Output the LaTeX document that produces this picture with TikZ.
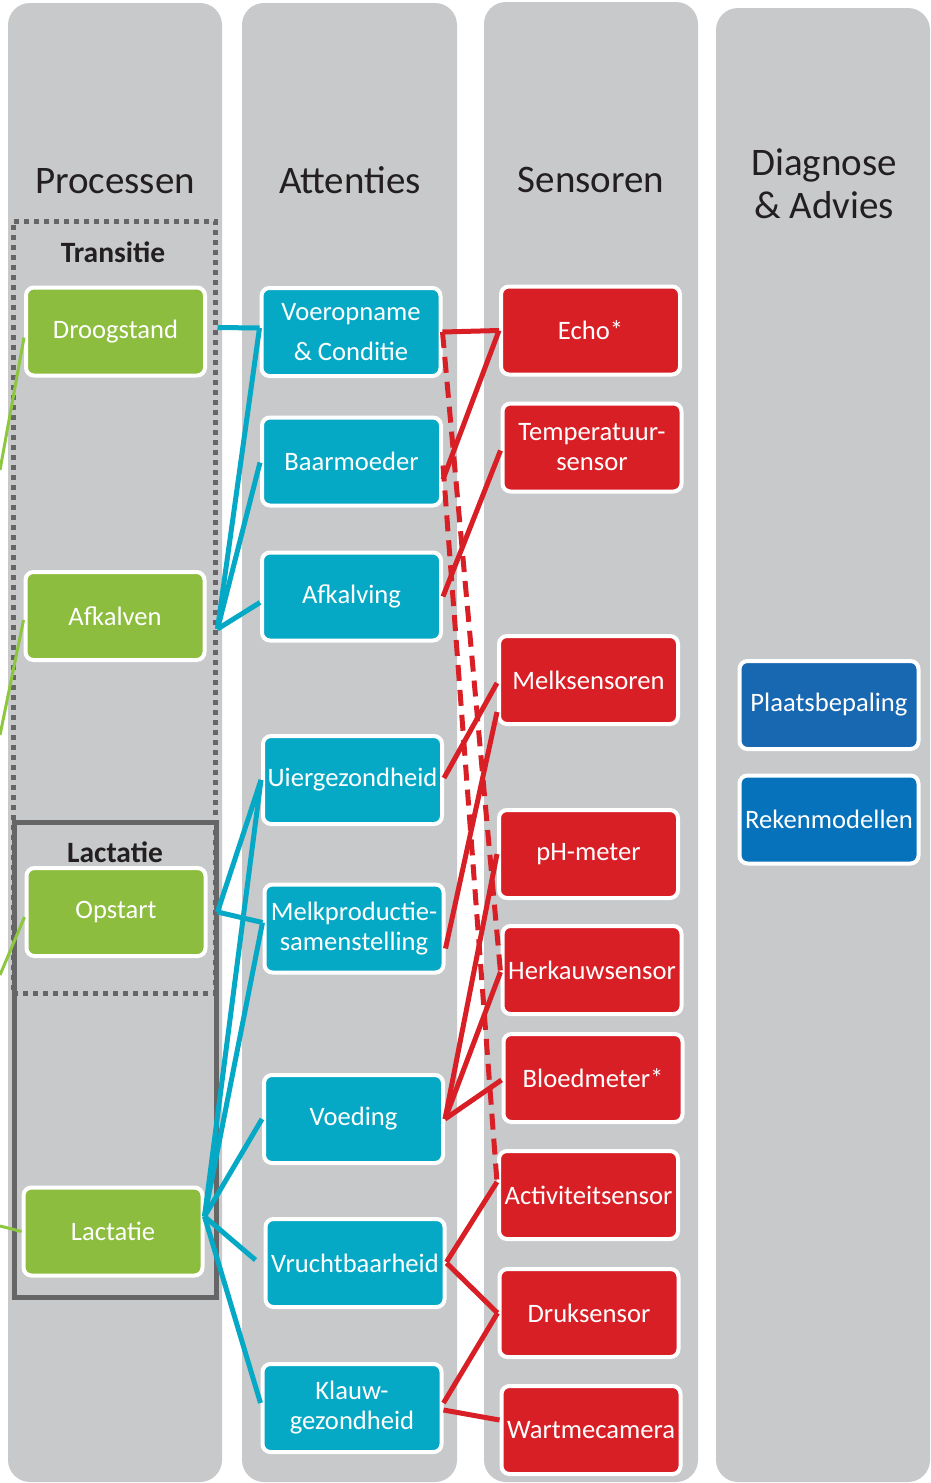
\documentclass[tikz,border=0pt]{standalone}
\usepackage{fontspec}
\setmainfont{Carlito}
\usetikzlibrary{calc}
\definecolor{colgray}{HTML}{C8C9CB}
\definecolor{procgreen}{HTML}{8CBD3E}
\definecolor{attteal}{HTML}{06A9C5}
\definecolor{sensred}{HTML}{D91F26}
\definecolor{diagblue}{HTML}{1767B1}
\definecolor{diagbluetwo}{HTML}{0672BB}
\definecolor{framegray}{HTML}{666666}
\definecolor{headtext}{HTML}{231F20}
\definecolor{feedgreen}{HTML}{8DC63F}

\begin{document}
\begin{tikzpicture}[x=1pt,y=-1pt,
  column/.style={fill=colgray, rounded corners=22pt},
  card/.style={draw=white, line width=4pt, rounded corners=8pt,
    minimum width=179pt, minimum height=88pt, inner sep=0pt,
    text=white, align=center, font=\fontsize{26.6}{30}\selectfont},
  proc/.style={card, fill=procgreen},
  att/.style={card, fill=attteal},
  sens/.style={card, fill=sensred},
  diag/.style={card, fill=diagblue},
  header/.style={font=\fontsize{39}{46}\selectfont, text=headtext, anchor=base},
  grouptitle/.style={font=\bfseries\fontsize{29.5}{34}\selectfont, text=headtext, anchor=base},
  dottedframe/.style={draw=framegray, line width=5pt, dash pattern=on 5pt off 5pt,
    inner sep=0pt},
  solidframe/.style={draw=framegray, line width=5pt, inner sep=0pt},
  tlink/.style={draw=attteal, line width=5pt},
  rlink/.style={draw=sensred, line width=5pt},
  rdash/.style={rlink, dash pattern=on 16pt off 9pt},
  feed/.style={draw=feedgreen, line width=3pt},
]
\useasboundingbox (0,0) rectangle (930,1483);

% the four columns
\fill[column] (8,3) rectangle (222,1482);
\fill[column] (242,3) rectangle (457,1482);
\fill[column] (484,2) rectangle (698,1482);
\fill[column] (716,8) rectangle (930,1482);

% column headings
\node[header] (hproc) at (115,193) {Processen};
\node[header] (hatt) at (350,193) {Attenties};
\node[header] (hsens) at (591,192) {Sensoren};
\node[header] (hdiag) at (824,175) {Diagnose};
\node[header] (hadv) at (824,218) {\& Advies};

% group frames
\node[dottedframe, minimum width=202pt, minimum height=772pt] (trans) at (114,607) {};
\node[solidframe, minimum width=202pt, minimum height=475pt] (lactframe) at (115,1059.5) {};
\node[grouptitle] (ttrans) at (113,262) {Transitie};
\node[grouptitle] (tlact) at (115,862) {Lactatie};

% incoming lines from the left
\coordinate (gin1) at (0,470);
\coordinate (gin2) at (0,735);
\coordinate (gin3) at (0,975);
\coordinate (gin4) at (0,1226);

% processes
\node[proc] (droog) at (115.5,331.5) {Droogstand};
\node[proc] (afkalven) at (115,616) {Afkalven};
\node[proc] (opstart) at (116,912) {Opstart};
\node[proc] (lact) at (113,1231.5) {Lactatie};

\draw[feed] (gin1) -- ($(droog.west)+(0,6)$);
\draw[feed] (gin2) -- ($(afkalven.west)+(0,4)$);
\draw[feed] (gin3) -- ($(opstart.west)+(0,5)$);
\draw[feed] (gin4) -- (lact.west);

% attentions
\node[att] (voer) at (351,332) {Voeropname\\[10pt]\& Conditie};
\node[att] (baar) at (351.5,461.5) {Baarmoeder};
\node[att] (afkalving) at (351.5,596.5) {Afkalving};
\node[att] (uier) at (352.5,780) {Uiergezondheid};
\node[att] (melkprod) at (354,928.5) {Melkproductie-\\samenstelling};
\node[att] (voeding) at (353.5,1119) {Voeding};
\node[att] (vrucht) at (355,1263) {Vruchtbaarheid};
\node[att] (klauw) at (352,1408) {Klauw-\\gezondheid};

% sensors
\node[sens] (echo) at (590.5,330.5) {Echo*};
\node[sens] (temp) at (592,447.5) {Temperatuur-\\sensor};
\node[sens] (melks) at (588.5,680) {Melksensoren};
\node[sens] (ph) at (588.5,854) {pH-meter};
\node[sens] (herk) at (592,970) {Herkauwsensor};
\node[sens] (bloed) at (593,1078) {Bloedmeter*};
\node[sens] (activ) at (588.5,1195) {Activiteitsensor};
\node[sens] (druk) at (589,1313) {Druksensor};
\node[sens] (wart) at (591,1430) {Wartmecamera};

% diagnosis and advice
\node[diag] (plaats) at (829,705) {Plaatsbepaling};
\node[diag, fill=diagbluetwo] (reken) at (829,819.5) {Rekenmodellen};

% junctions on the process side
\coordinate (droogJ) at ($(droog.east -| trans.east)+(0,-4)$);
\coordinate (afkJ) at ($(afkalven.east -| trans.east)+(0,13)$);
\coordinate (opsJ) at (opstart.east -| trans.east);
\coordinate (lacJ) at ($(lact.east)+(0,-15)$);

% processes to attentions
\draw[tlink] (droogJ) -- ($(voer.west)+(0,-4)$);
\draw[tlink] (afkJ) -- ($(voer.west)+(0,-4)$);
\draw[tlink] (afkJ) -- ($(baar.west)+(0,1)$);
\draw[tlink] (afkJ) -- ($(afkalving.west)+(0,6)$);
\draw[tlink] (opsJ) -- (uier.west);
\draw[tlink] (opsJ) -- ($(melkprod.west)+(0,-6)$);
\draw[tlink] (lacJ) -- (uier.west);
\draw[tlink] (lacJ) -- ($(melkprod.west)+(0,-6)$);
\draw[tlink] (lacJ) -- (voeding.west);
\draw[tlink] (lacJ) -- ($(vrucht.west)+(-8,-3)$);
\draw[tlink] (lacJ) -- ($(klauw.west)+(0,-5)$);

% attentions to sensors
\draw[rlink] (voer.east) -- (echo.west);
\draw[rlink] (echo.west) -- ($(baar.east)+(0,18)$);
\draw[rlink] ($(temp.west)+(0,3)$) -- (afkalving.east);
\draw[rlink] ($(melks.west)+(0,3)$) -- ($(uier.east)+(0,-2)$);
\draw[rlink] ($(melks.west)+(0,32)$) -- ($(melkprod.east)+(0,20)$);
\draw[rlink] (ph.west) -- (voeding.east);
\draw[rlink] ($(herk.west)+(0,2)$) -- (voeding.east);
\draw[rlink] ($(bloed.west)+(0,2)$) -- (voeding.east);
\draw[rlink] ($(activ.west)+(0,-13)$) -- ($(vrucht.east)+(0,-1)$);
\draw[rlink] (vrucht.east) -- (druk.west);
\draw[rlink] (druk.west) -- ($(klauw.east)+(0,-5)$);
\draw[rlink] ($(klauw.east)+(0,2)$) -- ($(wart.west)+(0,-10)$);
\draw[rdash] (voer.east) -- ($(herk.west)+(0,2)$);
\draw[rdash] ($(baar.east)+(0,4)$) -- ($(activ.west)+(0,-13)$);
\end{tikzpicture}
\end{document}
